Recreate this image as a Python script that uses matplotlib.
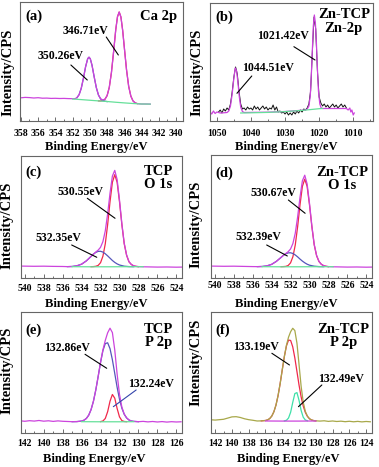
" XPS スペクトル 6 パネル図 (Ca 2p, Zn 2p, O 1s, P 2p) "
import matplotlib
matplotlib.use('Agg')
import matplotlib.pyplot as plt
from matplotlib.ticker import MultipleLocator

plt.rcParams['font.family'] = 'Liberation Serif'
plt.rcParams['font.weight'] = 'bold'
plt.rcParams['axes.labelweight'] = 'bold'

MAGENTA = '#cc44dd'
RED = '#f0284a'
BLUE = '#5555bb'
GREEN = '#66e09a'
OLIVE = '#a8a84a'
TEAL = '#3ee0a8'

# ---- (a) TCP Ca 2p ----
a_x = [358, 357.5, 357, 356.5, 356, 355.5, 355, 354.5, 354, 353.5, 353, 352.5, 352,
       351.75, 351.5, 351.25, 351, 350.75, 350.5, 350.25, 350.1, 349.95, 349.75, 349.5,
       349.25, 349, 348.75, 348.5, 348.25, 348, 347.75, 347.5, 347.25, 347, 346.8, 346.6,
       346.4, 346.2, 346, 345.75, 345.5, 345.25, 345, 344.75, 344.5, 344.25, 344, 343.5,
       343]
a_env = [23.2, 23.6, 23.4, 23.0, 23.3, 22.8, 22.9, 22.6, 22.7, 22.5, 22.6, 22.4, 22.3,
         22.3, 23.3, 26.3, 32.7, 42.6, 54.1, 62.4, 63.8, 62.2, 55.7, 44.1,
         33.3, 25.9, 22.2, 21.0, 21.9, 25.4, 33.6, 48.5, 69.2, 91.3, 104.2, 109,
         104, 90.8, 73, 51.2, 34.6, 24.9, 20.1, 18.1, 17.4, 17.1, 17, 17,
         16.9]
a_p1_x = [349, 348.75, 348.5, 348.25, 348, 347.75, 347.5, 347.25, 347, 346.8,
          346.6, 346.4, 346.2, 346, 345.75, 345.5, 345.25, 345, 344.75, 344.5]
a_p1 = [20.1, 20.05, 20.4, 21.7, 25.4, 33.6, 48.5, 69.2, 91.3, 104.2,
        109, 104, 90.8, 73, 51.2, 34.6, 24.9, 20.1, 18.1, 17.4]
a_p2_x = [351.5, 351.25, 351, 350.75, 350.5, 350.25, 350.1, 349.95,
          349.75, 349.5, 349.25, 349, 348.75, 348.5, 348.25, 348]
a_p2 = [23.3, 26.3, 32.7, 42.6, 54.1, 62.4, 63.8, 62.2,
        55.7, 44.1, 33.3, 25.9, 22.0, 20.4, 19.8, 19.4]
a_bg_x = [352, 351, 350, 349, 348, 347, 346, 345, 344, 343]
a_bg = [22, 21.4, 20.75, 20.1, 19.5, 18.75, 18.1, 17.5, 17, 16.9]

# ---- (b) Zn-TCP Zn 2p ----
b_x = [1049.5, 1049, 1048.5, 1048, 1047.5, 1047, 1046.5, 1046, 1045.5, 1045,
       1044.5, 1044, 1043.5, 1043, 1042.5, 1042, 1041.5, 1041, 1040.5, 1040,
       1039.5, 1039, 1038.5, 1038, 1037.5, 1037, 1036.5, 1036, 1035.5, 1035,
       1034.5, 1034, 1033.5, 1033, 1032.5, 1032, 1031.5, 1031, 1030.5, 1030,
       1029.5, 1029, 1028.5, 1028, 1027.5, 1027, 1026.5, 1026, 1025.5, 1025,
       1024.5, 1024, 1023.5, 1023, 1022.5, 1022, 1021.5, 1021, 1020.5, 1020,
       1019.5, 1019, 1018.5, 1018, 1017.5, 1017, 1016.5, 1016, 1015.5, 1015,
       1014.5, 1014, 1013.5, 1013, 1012.5, 1012]
b_raw = [9, 11, 8, 12, 10, 13, 11, 17, 29, 44,
         54, 47, 30, 17, 12, 13, 11, 14, 12, 13,
         11, 15, 12, 14, 11, 13, 15, 12, 14, 11,
         13, 12, 16, 11, 14, 9, 10, 8, 9, 7,
         9, 6, 8, 6, 9, 7, 10, 8, 11, 9,
         12, 11, 13, 17, 30, 68, 104, 92, 50, 24,
         18, 15, 17, 14, 16, 13, 15, 17, 14, 16,
         13, 15, 17, 14, 16, 13]
b_fit_x = [1052, 1051.5, 1051, 1050.5, 1050, 1049, 1048, 1047, 1046.5, 1046,
           1045.5, 1045, 1044.6, 1044.2, 1043.8, 1043.4, 1043, 1042.5, 1042, 1040,
           1035, 1030, 1026, 1024, 1023.5, 1023, 1022.6, 1022.3, 1022, 1021.7,
           1021.4, 1021.1, 1020.8, 1020.5, 1020.2, 1019.8, 1019.4, 1019, 1016, 1013,
           1012, 1011.5, 1011, 1010.7, 1010.4, 1010, 1009.7]
b_fit = [9, 7, 10, 7.5, 9, 8, 8.2, 8.5, 10, 15,
         27, 43, 53, 50, 38, 24, 14, 9.5, 8.5, 8.6,
         8.8, 9.5, 10.5, 11, 12, 15, 25, 45, 70, 95,
         106, 98, 78, 52, 30, 17, 13, 12.5, 12.5, 12.5,
         12.5, 11, 13, 9, 11, 6, 8]
b_bg_x = [1043, 1040, 1035, 1030, 1025, 1022, 1020, 1019]
b_bg = [8, 8.2, 8.6, 9.4, 10.6, 11.6, 12.3, 12.5]

# ---- (c) TCP O 1s / (d) Zn-TCP O 1s (共通グリッド) ----
o_x = [540.4, 539, 538, 537, 536, 535.5, 535, 534.5, 534, 533.5,
       533, 532.75, 532.5, 532.25, 532, 531.75, 531.5, 531.25, 531, 530.75,
       530.5, 530.25, 530, 529.75, 529.5, 529.25, 529, 528.75, 528.5, 528.25,
       528, 527.5, 526, 525, 524, 523.4]
c_env = [12.2, 12.0, 12.1, 11.9, 11.8, 11.65, 11.8, 12.5, 14.1, 17.4,
         21.9, 24.2, 26.3, 28.2, 31.0, 36.7, 47.4, 64.5, 85.1, 102.2,
         107.9, 98.8, 78.3, 54.7, 35.0, 23.3, 16.6, 13.85, 12.45, 11.95,
         11.7, 11.5, 11.2, 11.3, 11.1, 11.2]
d_env = [12.2, 12.0, 12.1, 11.9, 11.7, 11.65, 11.8, 12.4, 13.9, 16.9,
         20.9, 23.0, 24.8, 26.6, 29.3, 34.8, 45.1, 61.5, 81.1, 97.5,
         103.1, 94.4, 75.0, 52.6, 33.9, 22.9, 16.9, 14.0, 12.6, 12.0,
         11.7, 11.5, 11.2, 11.3, 11.1, 11.2]
o_red_x = [533, 532.75, 532.5, 532.25, 532, 531.75, 531.5, 531.25, 531, 530.75, 530.5,
           530.25, 530, 529.75, 529.5, 529.25, 529, 528.75, 528.5, 528.25, 528]
c_red = [11.6, 11.7, 12.0, 12.9, 15.6, 22.1, 34.5, 53.7, 76.6, 96.0, 103.6,
         96.0, 76.6, 53.7, 34.5, 23.0, 16.5, 13.8, 12.4, 11.9, 11.6]
d_red = [11.6, 11.7, 11.9, 12.8, 15.4, 21.6, 33.4, 51.7, 73.5, 91.9, 99.2,
         91.9, 73.5, 51.7, 33.4, 22.6, 16.8, 14.0, 12.6, 12.0, 11.6]
o_blue_x = [535.5, 535, 534.5, 534, 533.5, 533, 532.75, 532.5, 532.25, 532, 531.75,
            531.5, 531.25, 531, 530.75, 530.5, 530.25, 530, 529.5, 529, 528.5]
c_blue = [11.65, 11.8, 12.5, 14.1, 17.4, 21.9, 24.2, 25.9, 26.9, 27.0, 26.2,
          24.5, 22.4, 20.1, 17.8, 15.9, 14.4, 13.3, 12.1, 11.7, 11.6]
d_blue = [11.65, 11.8, 12.4, 13.9, 16.9, 20.9, 22.9, 24.5, 25.4, 25.5, 24.8,
          23.3, 21.4, 19.2, 17.2, 15.5, 14.1, 13.1, 12.1, 11.7, 11.6]
o_bg_x = [535, 533, 531, 529, 527.5]
o_bg = [11.6, 11.5, 11.5, 11.6, 11.6]

# ---- (e) TCP P 2p ----
e_x = [142.4, 142, 141.5, 141, 140.5, 140, 139.5, 139, 138.5, 138,
       137.5, 137, 136.5, 136, 135.75, 135.5, 135.25, 135, 134.75, 134.5,
       134.25, 134, 133.75, 133.5, 133.25, 133, 132.75, 132.5, 132.25, 132,
       131.75, 131.5, 131.25, 131, 130.75, 130.5, 130, 129.5, 129, 128.5,
       128, 127.5, 127, 126.5, 126, 125.5]
e_env = [12.4, 12.0, 12.6, 12.2, 12.8, 12.1, 12.5, 11.9, 12.4, 12.0,
         11.8, 11.6, 11.7, 12.2, 13.1, 14.8, 18.1, 23.7, 32.1, 43.4,
         56.9, 71.0, 83.4, 92.9, 100.5, 105.1, 100.7, 83.3, 59.2, 38.9,
         26.2, 19.2, 15.4, 13.3, 12.3, 11.9, 11.6, 11.9, 11.4, 11.8,
         11.3, 11.7, 11.2, 11.6, 11.3, 11.5]
e_blue_x = [137, 136.5, 136, 135.75, 135.5, 135.25, 135, 134.75, 134.5, 134.25,
            134, 133.75, 133.5, 133.25, 133, 132.75, 132.5, 132.25, 132, 131.75,
            131.5, 131.25, 131, 130.75, 130.5, 130]
e_blue = [11.6, 11.7, 12.2, 13.1, 14.8, 18.1, 23.7, 32.1, 43.4, 56.9,
          70.9, 82.7, 89.7, 90.5, 84.6, 73.5, 59.8, 46.0, 34.1, 25.1,
          19.0, 15.4, 13.3, 12.3, 11.9, 11.6]
e_red_x = [134, 133.75, 133.5, 133.25, 133, 132.75, 132.5, 132.25, 132, 131.75, 131.5, 131.25]
e_red = [11.7, 12.3, 14.8, 21.6, 32.1, 38.8, 35.1, 24.8, 16.4, 12.7, 11.8, 11.6]
e_bg_x = [136, 134, 132, 130.5]
e_bg = [11.6, 11.5, 11.5, 11.6]

# ---- (f) Zn-TCP P 2p ----
f_x = [142.5, 142, 141.5, 141, 140.5, 140, 139.5, 139, 138.5, 138,
       137.5, 137, 136.5, 136, 135.75, 135.5, 135.25, 135, 134.75, 134.5,
       134.25, 134, 133.75, 133.5, 133.25, 133, 132.75, 132.5, 132.25, 132,
       131.75, 131.5, 131.25, 131, 130.75, 130.5, 130.25, 130, 129.5, 129,
       128.5, 128, 127.5, 127, 126.5, 126, 125.5, 125, 124.5, 124,
       123.5]
f_env = [13.5, 13.2, 13.6, 14.0, 15.2, 16.4, 16.6, 15.8, 14.5, 13.6,
         13.0, 12.3, 12.4, 12.8, 13.4, 14.7, 17.2, 21.5, 28.2, 37.7,
         49.8, 63.5, 76.9, 88.1, 96.2, 101.6, 105.0, 102.7, 90.2, 68.8,
         46.9, 31.1, 21.9, 17.1, 14.5, 13.3, 12.7, 12.45, 12.2, 12.5,
         11.9, 12.3, 11.8, 12.1, 11.6, 12.0, 11.5, 11.9, 11.4, 11.8,
         11.5]
f_red_x = [136.5, 136, 135.75, 135.5, 135.25, 135, 134.75, 134.5, 134.25, 134,
           133.75, 133.5, 133.25, 133, 132.75, 132.5, 132.25, 132, 131.75, 131.5,
           131.25, 131, 130.75, 130.5, 130.25, 130]
f_red = [12.4, 12.8, 13.4, 14.7, 17.2, 21.5, 28.2, 37.7, 49.8, 63.5,
         76.8, 87.4, 93.2, 92.8, 86.4, 75.3, 61.8, 48.2, 36.4, 27.3,
         20.9, 16.9, 14.5, 13.3, 12.7, 12.45]
f_green_x = [133.75, 133.5, 133.25, 133, 132.75, 132.5, 132.25, 132, 131.75, 131.5, 131.25, 131]
f_green = [12.4, 13.0, 15.3, 21.1, 30.9, 39.7, 40.7, 32.9, 22.8, 16.1, 13.3, 12.5]
f_bg_x = [136, 134, 132, 130]
f_bg = [12.3, 12.2, 12.2, 12.3]


def setup(ax, xlim, ytop, major, minor, pad, xlab_pos, ylab_pos):
    ax.set_xlim(*xlim)
    ax.set_ylim(0, ytop)
    ax.set_yticks([])
    ax.xaxis.set_major_locator(MultipleLocator(major))
    ax.xaxis.set_minor_locator(MultipleLocator(minor))
    ax.tick_params(axis='x', which='major', direction='in', length=3, width=0.6,
                   color='#555555', labelsize=7, pad=pad)
    ax.tick_params(axis='x', which='minor', direction='in', length=1.5, width=0.6,
                   color='#555555')
    for sp in ax.spines.values():
        sp.set_color('#666666')
        sp.set_linewidth(0.8)
    ax.set_xlabel('Binding Energy/eV', fontsize=9)
    ax.xaxis.set_label_coords(*xlab_pos)
    ax.xaxis.label.set_va('center')
    ax.set_ylabel('Intensity/CPS', fontsize=10.5)
    ax.yaxis.set_label_coords(*ylab_pos)
    ax.yaxis.label.set_va('center')


def tag(ax, letter, side, ltop, stop, sright, spacing=1.0):
    ax.text(0.03, ltop, letter, transform=ax.transAxes, fontsize=10.5, ha='left', va='top')
    ax.text(sright, stop, side, transform=ax.transAxes, fontsize=10.5, ha='right', va='top',
            multialignment='center', linespacing=spacing)


def peak_label(ax, text, tpos, start, end, color='k'):
    ax.text(tpos[0], tpos[1], text, fontsize=8.5, ha='center', va='center')
    ax.annotate('', xy=end, xytext=start,
                arrowprops=dict(arrowstyle='-', lw=0.8, color=color, shrinkA=0, shrinkB=0))


if __name__ == "__main__":
    fig = plt.figure(figsize=(3.79, 4.67), dpi=100)
    ax_a = fig.add_axes([0.0528, 0.7409, 0.4301, 0.2548])
    ax_b = fig.add_axes([0.5541, 0.7409, 0.4301, 0.2527])
    ax_c = fig.add_axes([0.0554, 0.4041, 0.4248, 0.2619])
    ax_d = fig.add_axes([0.5567, 0.4041, 0.4248, 0.2640])
    ax_e = fig.add_axes([0.0554, 0.0722, 0.4248, 0.2591])
    ax_f = fig.add_axes([0.5567, 0.0722, 0.4248, 0.2591])
    lw = 0.9

    # (a)
    ax_a.plot(a_p1_x, a_p1, color=RED, lw=lw)
    ax_a.plot(a_p2_x, a_p2, color=BLUE, lw=lw)
    ax_a.plot(a_x, a_env, color=MAGENTA, lw=lw)
    ax_a.plot(a_bg_x, a_bg, color=GREEN, lw=lw)
    setup(ax_a, (358.1, 339.2), 119, 2, 1, 5.5, (0.47, -0.218), (-0.074, 0.41))
    tag(ax_a, '(a)', 'Ca 2p', 0.935, 0.935, 0.963)
    peak_label(ax_a, '346.71eV', (350.56, 90.3), (348.1, 84), (346.7, 66))
    peak_label(ax_a, '350.26eV', (353.35, 65), (352.2, 56), (350.3, 41))

    # (b)
    ax_b.plot(b_x, b_raw, color='#111111', lw=0.7)
    ax_b.plot(b_fit_x, b_fit, color=MAGENTA, lw=lw)
    ax_b.plot(b_bg_x, b_bg, color=GREEN, lw=lw)
    setup(ax_b, (1052, 1004.2), 118, 10, 5, 5.5, (0.47, -0.22), (-0.082, 0.41))
    tag(ax_b, '(b)', 'Zn-TCP\nZn-2p', 0.94, 0.955, 0.98, spacing=1.12)
    peak_label(ax_b, '1021.42eV', (1030.7, 85), (1027.4, 74.3), (1021.2, 61))
    peak_label(ax_b, '1044.51eV', (1035.1, 52.7), (1039.75, 45), (1044.1, 27.7))

    # (c)
    ax_c.plot(o_red_x, c_red, color=RED, lw=lw)
    ax_c.plot(o_blue_x, c_blue, color=BLUE, lw=lw)
    ax_c.plot(o_x, c_env, color=MAGENTA, lw=lw)
    ax_c.plot(o_bg_x, o_bg, color=GREEN, lw=lw)
    setup(ax_c, (540.4, 523.4), 122.3, 2, 1, 4, (0.47, -0.21), (-0.089, 0.43))
    tag(ax_c, '(c)', 'TCP\nO 1s', 0.92, 0.925, 0.944)
    peak_label(ax_c, '530.55eV', (534.1, 86.6), (533.4, 80), (530.47, 60))
    peak_label(ax_c, '532.35eV', (536.47, 40), (535.05, 33.3), (532.4, 21))

    # (d)
    ax_d.plot(o_red_x, d_red, color=RED, lw=lw)
    ax_d.plot(o_blue_x, d_blue, color=BLUE, lw=lw)
    ax_d.plot(o_x, d_env, color=MAGENTA, lw=lw)
    ax_d.plot(o_bg_x, o_bg, color=GREEN, lw=lw)
    setup(ax_d, (540.4, 523.4), 123.3, 2, 1, 2, (0.47, -0.21), (-0.093, 0.44))
    tag(ax_d, '(d)', 'Zn-TCP\nO 1s', 0.905, 0.91, 0.977)
    peak_label(ax_d, '530.67eV', (533.82, 85), (532.23, 78.3), (530.46, 65))
    peak_label(ax_d, '532.39eV', (535.41, 41), (534.52, 33.3), (532.34, 22.3))

    # (e)
    ax_e.plot(e_blue_x, e_blue, color=BLUE, lw=lw)
    ax_e.plot(e_red_x, e_red, color=RED, lw=lw)
    ax_e.plot(e_x, e_env, color=MAGENTA, lw=lw)
    ax_e.plot(e_bg_x, e_bg, color=GREEN, lw=lw)
    setup(ax_e, (142.4, 125.4), 121, 2, 1, 4, (0.453, -0.212), (-0.089, 0.52))
    tag(ax_e, '(e)', 'TCP\nP 2p', 0.905, 0.91, 0.944)
    peak_label(ax_e, '132.86eV', (137.5, 85.6), (135.64, 79), (133.35, 65))
    peak_label(ax_e, '132.24eV', (128.67, 49), (130.24, 43.3), (132.65, 26.6), color='#3344aa')

    # (f)
    ax_f.plot(f_red_x, f_red, color=RED, lw=lw)
    ax_f.plot(f_x, f_env, color=OLIVE, lw=lw)
    ax_f.plot(f_green_x, f_green, color=TEAL, lw=lw)
    ax_f.plot(f_bg_x, f_bg, color=MAGENTA, lw=lw)
    setup(ax_f, (142.5, 123.3), 121, 2, 1, 4, (0.478, -0.212), (-0.093, 0.585))
    tag(ax_f, '(f)', 'Zn-TCP\nP 2p', 0.905, 0.91, 0.983)
    peak_label(ax_f, '133.19eV', (137.14, 86.6), (135.24, 80), (133.14, 68.3))
    peak_label(ax_f, '132.49eV', (127.0, 54.3), (129.28, 48.3), (132.07, 26.6))

    fig.savefig('out.png', dpi=100)
    plt.close(fig)
